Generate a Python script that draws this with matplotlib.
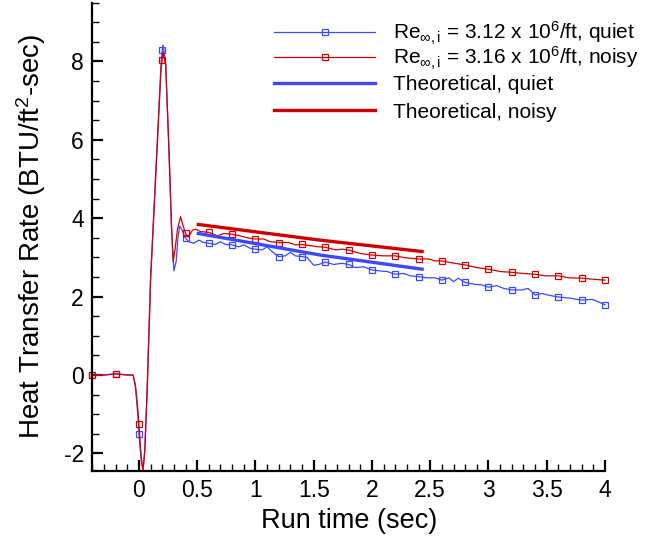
import numpy as np
import matplotlib
matplotlib.use("Agg")
import matplotlib.pyplot as plt
from matplotlib.ticker import MultipleLocator, FuncFormatter

plt.rcParams["font.family"] = ["Liberation Sans", "DejaVu Sans"]
plt.rcParams["mathtext.fontset"] = "custom"
plt.rcParams["mathtext.rm"] = "Liberation Sans"
plt.rcParams["mathtext.it"] = "Liberation Sans:italic"
plt.rcParams["axes.unicode_minus"] = False

# measured heat transfer, quiet run
t_quiet = [-0.4, -0.3, -0.2, -0.1, -0.05, -0.03, -0.01, 0.0, 0.02, 0.035,
           0.05, 0.07, 0.086, 0.1, 0.14, 0.19, 0.2, 0.207, 0.23, 0.26,
           0.28, 0.30, 0.32, 0.335, 0.35, 0.37, 0.4, 0.43, 0.471, 0.514,
           0.557, 0.6, 0.657, 0.7, 0.743, 0.8, 0.857, 0.9, 0.957, 1.0,
           1.057, 1.1, 1.143, 1.2, 1.257, 1.3, 1.343, 1.4, 1.443, 1.5,
           1.543, 1.6, 1.671, 1.743, 1.8, 1.857, 1.93, 2.0, 2.086, 2.13,
           2.2, 2.27, 2.33, 2.4, 2.47, 2.54, 2.6, 2.66, 2.7, 2.74,
           2.8, 2.89, 2.94, 3.0, 3.07, 3.13, 3.2, 3.29, 3.34, 3.4,
           3.46, 3.51, 3.6, 3.7, 3.8, 3.89, 3.94, 4.0]
q_quiet = [0.0, 0.0, 0.03, 0.0, 0.0, -0.3, -1.0, -1.51, -2.2, -2.42,
           -1.9, -0.4, 1.15, 2.47, 4.9, 7.95, 8.29, 8.42, 7.95, 5.5,
           3.7, 2.66, 2.9, 3.5, 3.80, 3.7, 3.49, 3.40, 3.36, 3.44,
           3.38, 3.36, 3.33, 3.40, 3.33, 3.32, 3.27, 3.32, 3.23, 3.21,
           3.19, 3.27, 3.15, 3.02, 3.04, 3.13, 3.04, 3.02, 3.0, 2.8,
           2.82, 2.88, 2.82, 2.85, 2.82, 2.74, 2.76, 2.68, 2.65, 2.64,
           2.57, 2.59, 2.53, 2.51, 2.48, 2.48, 2.42, 2.48, 2.38, 2.47,
           2.36, 2.31, 2.30, 2.24, 2.28, 2.21, 2.17, 2.17, 2.21, 2.04,
           2.08, 2.04, 1.99, 1.96, 1.91, 1.93, 1.87, 1.79]

# measured heat transfer, noisy run
t_noisy = [-0.4, -0.3, -0.2, -0.1, -0.05, -0.03, -0.01, 0.0, 0.02, 0.035,
           0.05, 0.07, 0.086, 0.1, 0.14, 0.19, 0.2, 0.207, 0.23, 0.26,
           0.28, 0.294, 0.31, 0.33, 0.357, 0.38, 0.4, 0.425, 0.46, 0.49,
           0.529, 0.6, 0.672, 0.73, 0.8, 0.871, 0.929, 1.0, 1.07, 1.129,
           1.2, 1.285, 1.343, 1.4, 1.471, 1.54, 1.6, 1.686, 1.743, 1.8,
           1.9, 2.0, 2.1, 2.2, 2.286, 2.4, 2.49, 2.54, 2.6, 2.67,
           2.71, 2.8, 2.9, 3.0, 3.1, 3.2, 3.3, 3.4, 3.49, 3.6,
           3.69, 3.8, 3.91, 4.0]
q_noisy = [0.0, 0.0, 0.03, 0.0, 0.0, -0.25, -0.85, -1.25, -2.1, -2.42,
           -2.0, -0.5, 1.0, 2.4, 4.8, 7.8, 8.04, 8.25, 7.9, 5.6,
           3.8, 2.89, 3.2, 3.7, 4.04, 3.8, 3.61, 3.52, 3.70, 3.72,
           3.66, 3.64, 3.55, 3.61, 3.59, 3.55, 3.50, 3.47, 3.47, 3.40,
           3.38, 3.38, 3.32, 3.33, 3.30, 3.27, 3.26, 3.19, 3.21, 3.19,
           3.10, 3.06, 3.04, 3.04, 2.99, 2.96, 2.96, 2.91, 2.91, 2.87,
           2.85, 2.81, 2.74, 2.70, 2.64, 2.62, 2.59, 2.57, 2.53, 2.53,
           2.48, 2.47, 2.44, 2.42]

# theoretical predictions
t_theory = [0.51, 1.557, 2.43]
q_theory_quiet = [3.61, 3.06, 2.70]
q_theory_noisy = [3.84, 3.44, 3.15]

labels = [r"Re$_{\infty,\mathrm{i}}$ = 3.12 x 10$^6$/ft, quiet",
          r"Re$_{\infty,\mathrm{i}}$ = 3.16 x 10$^6$/ft, noisy",
          "Theoretical, quiet",
          "Theoretical, noisy"]

blue = "#3a48ff"
red = "#d40000"


def marker_idx(t):
    t = np.asarray(t)
    return list(np.where(np.abs(t * 5 - np.round(t * 5)) < 1e-6)[0])


fig = plt.figure(figsize=(6.45, 5.37), dpi=100)
ax = fig.add_axes([0.1431, 0.1235, 0.938 - 0.1431, 0.9952 - 0.1235])

l1, = ax.plot(t_quiet, q_quiet, color=blue, lw=0.9, marker="s", ms=5,
              mfc="none", mew=0.9, markevery=marker_idx(t_quiet),
              clip_on=False, label=labels[0])
l2, = ax.plot(t_noisy, q_noisy, color=red, lw=0.9, marker="s", ms=5,
              mfc="none", mew=0.9, markevery=marker_idx(t_noisy),
              clip_on=False, label=labels[1])
l3, = ax.plot(t_theory, q_theory_quiet, color=blue, lw=2.4, label=labels[2])
l4, = ax.plot(t_theory, q_theory_noisy, color=red, lw=2.4, label=labels[3])

ax.set_xlim(-0.4, 4.0)
ax.set_ylim(-2.44, 9.5)
ax.spines["top"].set_visible(False)
ax.spines["right"].set_visible(False)
ax.spines["left"].set_linewidth(1.6)
ax.spines["bottom"].set_linewidth(1.6)

ax.xaxis.set_major_locator(MultipleLocator(0.5))
ax.xaxis.set_minor_locator(MultipleLocator(0.1))
ax.yaxis.set_major_locator(MultipleLocator(2))
ax.yaxis.set_minor_locator(MultipleLocator(0.5))
fmt = FuncFormatter(lambda v, p: "%g" % v)
ax.xaxis.set_major_formatter(fmt)
ax.yaxis.set_major_formatter(fmt)
ax.tick_params(which="major", direction="in", length=8, width=1.6,
               labelsize=16.5, pad=6)
ax.tick_params(which="minor", direction="in", length=5, width=1.0)

ax.set_xlabel("Run time (sec)", fontsize=19.5, labelpad=4)
ax.set_ylabel("Heat Transfer Rate (BTU/ft$^2$-sec)", fontsize=20, labelpad=11)

# legend in two blocks so the rows stay evenly spaced
leg_kw = dict(loc="upper left", frameon=False, fontsize=15,
              handlelength=4.85, handletextpad=0.85, borderpad=0,
              borderaxespad=0)
leg1 = ax.legend([l1, l2], labels[:2], bbox_to_anchor=(0.355, 0.964),
                 labelspacing=-0.1, **leg_kw)
ax.add_artist(leg1)
ax.legend([l3, l4], labels[2:], bbox_to_anchor=(0.355, 0.8445),
          labelspacing=0.4, **leg_kw)

fig.savefig("out.png", dpi=100)
